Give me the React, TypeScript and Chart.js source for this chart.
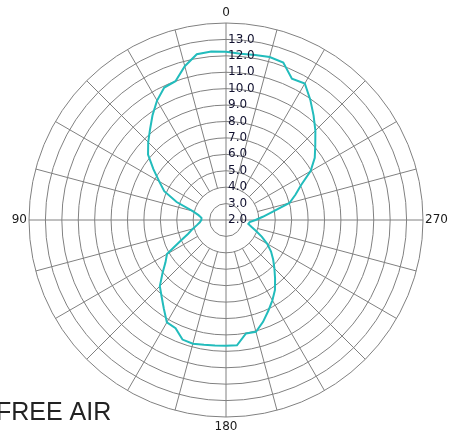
import React, { useEffect, useRef } from "react";
import { Chart, registerables } from "chart.js";

Chart.register(...registerables);

// Azimuth angles (degrees, counter-clockwise from top as in the reference)
const angles: number[] = [
  0, 5, 10, 15, 20, 25, 30, 35, 40, 45, 50, 55, 60, 65, 70, 75, 80, 85,
  90, 95, 100, 105, 110, 115, 120, 125, 130, 135, 140, 145, 150, 155, 160, 165, 170, 175,
  180, 185, 190, 195, 200, 205, 210, 215, 220, 225, 230, 235, 240, 245, 250, 255, 260, 265,
  270, 275, 280, 285, 290, 295, 300, 305, 310, 315, 320, 325, 330, 335, 340, 345, 350, 355,
];

// Gain values (dBi)
const gains: number[] = [
  12.25, 12.3, 12.25, 11.7, 11.0, 10.9, 10.4, 9.8, 9.2, 8.7, 8.2, 7.4, 6.7, 6.15, 5.2, 4.1, 3.7, 3.5,
  3.5, 3.6, 3.8, 4.1, 4.45, 5.1, 6.15, 6.5, 7.05, 7.7, 8.1, 8.6, 9.2, 9.27, 9.75, 9.8, 9.72, 9.68,
  9.66, 9.66, 9.02, 9.05, 8.6, 8.1, 7.65, 7.2, 6.65, 6.17, 5.75, 5.35, 4.9, 4.4, 3.95, 3.6, 3.38, 3.45,
  3.8, 4.25, 4.9, 6.0, 6.5, 7.05, 7.95, 8.6, 9.1, 9.7, 10.3, 10.95, 11.6, 11.5, 12.2, 12.28, 12.2, 12.16,
];

const tickLabels: string[] = ["2.0", "3.0", "4.0", "5.0", "6.0", "7.0", "8.0", "9.0", "10.0", "11.0", "12.0", "13.0"];
const tickValues: number[] = [2, 3, 4, 5, 6, 7, 8, 9, 10, 11, 12, 13];
const axisLabels: string[] = ["0", "90", "180", "270"];
const axisAngles: number[] = [0, 90, 180, 270];
const caption = "FREE AIR";

const R_MIN = 2;
const R_MAX = 14;
const SPOKE_START = 4;
const SPOKE_STEP = 15;
const GRID = "#808080";

export default function App() {
  const canvasRef = useRef<HTMLCanvasElement | null>(null);

  useEffect(() => {
    const canvas = canvasRef.current;
    if (!canvas) return;
    const n = angles.length;
    // Chart.js radar runs clockwise; reference runs counter-clockwise
    const order = angles.map((_, i) => (n - i) % n);
    const labels = order.map((k) => String(angles[k]));
    const data = order.map((k) => gains[k]);
    const indexForAngle = (a: number) => order.findIndex((k) => angles[k] === a);

    const overlay = {
      id: "polarOverlay",
      beforeDatasetsDraw(chart: any) {
        const scale = chart.scales.r;
        const ctx = chart.ctx;
        ctx.save();
        ctx.strokeStyle = GRID;
        ctx.lineWidth = 1;
        for (let i = 0; i < n; i++) {
          const a = angles[order[i]];
          if (a % SPOKE_STEP !== 0 || a % 90 === 0) continue;
          const p1 = scale.getPointPositionForValue(i, SPOKE_START);
          const p2 = scale.getPointPositionForValue(i, R_MAX);
          ctx.beginPath();
          ctx.moveTo(p1.x, p1.y);
          ctx.lineTo(p2.x, p2.y);
          ctx.stroke();
        }
        ctx.restore();
      },
      afterDatasetsDraw(chart: any) {
        const scale = chart.scales.r;
        const ctx = chart.ctx;
        ctx.save();
        ctx.font = '12px "DejaVu Sans"';
        ctx.fillStyle = "#121230";
        ctx.textAlign = "left";
        ctx.textBaseline = "middle";
        tickValues.forEach((v, j) => {
          const p = scale.getPointPositionForValue(0, v);
          ctx.fillText(tickLabels[j], p.x + 2, p.y);
        });
        ctx.fillStyle = "#1a1a1a";
        axisAngles.forEach((a, j) => {
          const idx = indexForAngle(a);
          const p = scale.getPointPositionForValue(idx, R_MAX);
          if (a === 0) {
            ctx.textAlign = "center";
            ctx.fillText(axisLabels[j], p.x, p.y - 10);
          } else if (a === 180) {
            ctx.textAlign = "center";
            ctx.fillText(axisLabels[j], p.x, p.y + 10);
          } else if (a === 90) {
            ctx.textAlign = "right";
            ctx.fillText(axisLabels[j], p.x - 2, p.y);
          } else {
            ctx.textAlign = "left";
            ctx.fillText(axisLabels[j], p.x + 2, p.y);
          }
        });
        ctx.font = '25px "Liberation Sans"';
        ctx.fillStyle = "#222222";
        ctx.textAlign = "left";
        ctx.textBaseline = "alphabetic";
        ctx.fillText(caption, -4, 420);
        ctx.restore();
      },
    };

    const chart = new Chart(canvas, {
      type: "radar",
      data: {
        labels,
        datasets: [
          {
            data,
            borderColor: "#22bcbc",
            borderWidth: 2,
            pointRadius: 0,
            fill: false,
            tension: 0,
          },
        ],
      },
      options: {
        animation: false,
        responsive: false,
        layout: { padding: { left: 29, right: 28, top: 23, bottom: 20 } },
        plugins: { legend: { display: false }, tooltip: { enabled: false } },
        scales: {
          r: {
            min: R_MIN,
            max: R_MAX,
            ticks: { stepSize: 1, display: false },
            grid: { color: GRID, lineWidth: 1, circular: true },
            angleLines: {
              display: true,
              color: (ctx: any) => {
                const a = angles[order[ctx.index]];
                return a % 90 === 0 ? GRID : "rgba(0,0,0,0)";
              },
              lineWidth: 1,
            },
            pointLabels: { display: false },
          },
        },
      },
      plugins: [overlay],
    });
    return () => chart.destroy();
  }, []);

  return (
    <div style={{ position: "fixed", left: 0, top: 0, width: 451, height: 437, background: "#fff" }}>
      <canvas ref={canvasRef} width={451} height={437} style={{ display: "block" }} />
    </div>
  );
}
